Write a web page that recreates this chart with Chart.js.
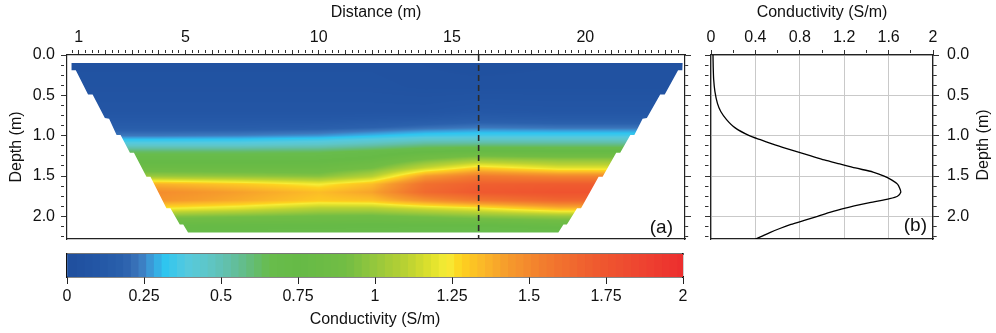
<!DOCTYPE html>
<html>
<head>
<meta charset="utf-8">
<script src="https://cdn.jsdelivr.net/npm/chart.js@4.4.1/dist/chart.umd.min.js"></script>
<style>
  html, body { margin: 0; padding: 0; background: #fff; }
  #wrap { position: relative; width: 996px; height: 333px; overflow: hidden; }
  canvas { position: absolute; }
</style>
</head>
<body>
<div id="wrap">
  <canvas id="section" width="700" height="245" style="left:0;top:0"></canvas>
  <canvas id="profile" width="301" height="245" style="left:695px;top:0"></canvas>
  <canvas id="colorbar" width="700" height="88" style="left:0;top:245px"></canvas>
</div>
<script>
// --- section (a): conductivity (S/m) per column of distance, rows of depth
const sectionDist = [4, 7, 10, 12, 14, 16, 19];
const sectionDepth = [0.1, 0.4, 0.7, 0.8, 0.9, 1.0, 1.1, 1.2, 1.3, 1.4, 1.5, 1.6, 1.7, 1.8, 1.9, 2.0, 2.1, 2.2, 2.3];
const condX4  = [0.04, 0.05, 0.08, 0.11, 0.15, 0.23, 0.40, 0.62, 0.72, 0.82, 1.00, 1.36, 1.48, 1.45, 1.24, 0.95, 0.78, 0.70, 0.66];
const condX7  = [0.04, 0.05, 0.08, 0.11, 0.15, 0.24, 0.40, 0.62, 0.72, 0.82, 0.98, 1.30, 1.41, 1.38, 1.18, 0.92, 0.77, 0.70, 0.66];
const condX10 = [0.04, 0.05, 0.08, 0.11, 0.16, 0.26, 0.43, 0.63, 0.73, 0.82, 0.95, 1.22, 1.33, 1.30, 1.08, 0.89, 0.76, 0.70, 0.66];
const condX12 = [0.04, 0.05, 0.08, 0.12, 0.18, 0.30, 0.48, 0.68, 0.78, 0.90, 1.08, 1.33, 1.40, 1.32, 1.08, 0.88, 0.75, 0.69, 0.65];
const condX14 = [0.03, 0.04, 0.08, 0.13, 0.21, 0.34, 0.54, 0.75, 0.92, 1.12, 1.42, 1.60, 1.63, 1.46, 1.15, 0.92, 0.76, 0.66, 0.60];
const condX16 = [0.02, 0.04, 0.10, 0.15, 0.23, 0.35, 0.55, 0.78, 1.02, 1.29, 1.55, 1.68, 1.72, 1.56, 1.21, 0.96, 0.76, 0.64, 0.58];
const condX19 = [0.03, 0.04, 0.09, 0.14, 0.22, 0.35, 0.55, 0.76, 0.98, 1.18, 1.50, 1.70, 1.76, 1.65, 1.35, 1.00, 0.80, 0.68, 0.62];
const sectionCond = [condX4, condX7, condX10, condX12, condX14, condX16, condX19];

// outline of the imaged area (left edge down, right edge up)
const outlineDist = [0.73, 0.73, 0.89, 1.35, 1.52, 1.98, 2.14, 2.42, 2.57, 2.92, 3.07, 3.54, 3.69, 4.29, 4.44, 4.79, 4.92, 5.10,
  18.99, 19.18, 19.31, 19.69, 19.84, 20.50, 20.65, 21.16, 21.31, 21.69, 21.84, 22.15, 22.31, 22.81, 22.98, 23.48, 23.64, 23.65];
const outlineDepth = [0.10, 0.19, 0.19, 0.49, 0.49, 0.78, 0.79, 0.99, 0.99, 1.21, 1.21, 1.51, 1.51, 1.90, 1.90, 2.10, 2.10, 2.20,
  2.20, 2.10, 2.10, 1.90, 1.90, 1.51, 1.51, 1.21, 1.21, 0.99, 0.99, 0.79, 0.78, 0.49, 0.49, 0.19, 0.19, 0.10];

// --- profile (b), taken under the dashed line
const profileAt = 16;
const profileDepth = [0.0, 0.15, 0.3, 0.45, 0.6, 0.7, 0.8, 0.9, 1.0, 1.05, 1.1, 1.15, 1.2, 1.25, 1.3, 1.35, 1.4, 1.45, 1.5,
  1.55, 1.6, 1.65, 1.7, 1.75, 1.78, 1.83, 1.9, 1.95, 2.0, 2.05, 2.1, 2.15, 2.2, 2.25, 2.28];
const profileCond = [0.018, 0.02, 0.024, 0.035, 0.058, 0.088, 0.14, 0.215, 0.345, 0.445, 0.55, 0.66, 0.78, 0.90, 1.02, 1.16, 1.30, 1.46, 1.56,
  1.63, 1.68, 1.70, 1.71, 1.68, 1.61, 1.43, 1.20, 1.07, 0.96, 0.84, 0.72, 0.62, 0.53, 0.45, 0.40];

// --- axes
const distRange = [0.56, 23.74];
const depthRange = [0, 2.28];
const distLabels = [1, 5, 10, 15, 20];
const depthLabels = [0, 0.5, 1, 1.5, 2];
const condLabels = [0, 0.4, 0.8, 1.2, 1.6, 2];
const barLabels = [0, 0.25, 0.5, 0.75, 1, 1.25, 1.5, 1.75, 2];

// --- colour scale
const cmapValues = [0, 0.1, 0.18, 0.23, 0.27, 0.31, 0.38, 0.45, 0.52, 0.58, 0.65, 0.75, 0.9, 1.0, 1.1, 1.18, 1.23, 1.27, 1.34, 1.42, 1.55, 1.7, 1.85, 2.0];
const cmapColors = ['#1f4f9e', '#2457a6', '#2b61ad', '#3d78bd', '#3a9fdc', '#2ec5f0', '#55c9de', '#5ec6c8', '#62bfa8', '#63bc80', '#68bc4c', '#66ba46',
  '#72bd44', '#98c83c', '#bcd232', '#e2e22c', '#f7ec36', '#fdd31f', '#fbb928', '#f69c2c', '#f27a2e', '#ef5c2f', '#ee4530', '#ec2d2e'];
const colorbarSteps = 80;

Chart.defaults.font.family = "'Liberation Sans', Arial, sans-serif";
Chart.defaults.font.size = 16;
Chart.defaults.color = '#111';

function lerpIndex(arr, v) {
  const n = arr.length - 1;
  if (v <= arr[0]) return [0, 0, 0];
  if (v >= arr[n]) return [n, n, 0];
  let i = 0;
  while (arr[i + 1] < v) i++;
  return [i, i + 1, (v - arr[i]) / (arr[i + 1] - arr[i])];
}

const cmapRGB = cmapColors.map(h => [1, 3, 5].map(k => parseInt(h.slice(k, k + 2), 16)));
function colourAt(v) {
  const [i0, i1, t] = lerpIndex(cmapValues, v);
  const a = cmapRGB[i0], b = cmapRGB[i1];
  return [0, 1, 2].map(k => Math.round(a[k] + (b[k] - a[k]) * t));
}

function sectionValue(dist, depth) {
  const [c0, c1, tx] = lerpIndex(sectionDist, dist);
  const [r0, r1, ty] = lerpIndex(sectionDepth, depth);
  const a = sectionCond[c0], b = sectionCond[c1];
  const top = a[r0] + (b[r0] - a[r0]) * tx;
  const bot = a[r1] + (b[r1] - a[r1]) * tx;
  return top + (bot - top) * ty;
}

// force axis box sizes so the three canvases line up
function fixSize(size) {
  return (scale) => {
    if (scale.isHorizontal()) scale.height = size; else scale.width = size;
    scale.paddingLeft = scale.paddingRight = scale.paddingTop = scale.paddingBottom = 0;
  };
}
function setTicks(values) {
  return (scale) => { scale.ticks = values.map(v => ({ value: v })); };
}
const near = (a, b) => Math.abs(a - b) < 1e-6;
const isStep = (v, s) => near(v / s, Math.round(v / s));

const distTicks = [], depthTicks = [], condTicks = [];
for (let k = 3; k <= 94; k++) distTicks.push(k / 4);
for (let k = 0; k <= 18; k++) depthTicks.push(k / 8);
for (let k = 0; k <= 10; k++) condTicks.push(k / 5);

function tickGrid(isMajor, long, short, extra) {
  return Object.assign({
    drawOnChartArea: false,
    tickLength: long,
    tickWidth: 1,
    tickColor: '#333',
    tickBorderDash: (c) => (c.tick && isMajor(c.tick.value)) ? [] : [short, 40]
  }, extra || {});
}
const frame = { color: '#222', width: 1.2 };
const noTicks = { display: false };

function tag(text, dx, dy) {
  return {
    id: 'tag',
    afterDraw(chart) {
      const { ctx, chartArea } = chart;
      ctx.save();
      ctx.font = "19px 'Liberation Sans', Arial, sans-serif";
      ctx.fillStyle = '#111';
      ctx.textAlign = 'right';
      ctx.textBaseline = 'alphabetic';
      ctx.fillText(text, chartArea.right - dx, chartArea.bottom - dy);
      ctx.restore();
    }
  };
}

const heatmap = {
  id: 'heatmap',
  beforeDatasetsDraw(chart) {
    const { ctx, chartArea: area, scales } = chart;
    const x = scales.x, y = scales.y;
    const w = Math.ceil(area.right - area.left), h = Math.ceil(area.bottom - area.top);
    const off = document.createElement('canvas');
    off.width = w; off.height = h;
    const octx = off.getContext('2d');
    const img = octx.createImageData(w, h);
    const dists = [];
    for (let i = 0; i < w; i++) dists.push(x.getValueForPixel(area.left + i + 0.5));
    for (let j = 0; j < h; j++) {
      const depth = y.getValueForPixel(area.top + j + 0.5);
      for (let i = 0; i < w; i++) {
        const rgb = colourAt(sectionValue(dists[i], depth));
        const p = (j * w + i) * 4;
        img.data[p] = rgb[0]; img.data[p + 1] = rgb[1]; img.data[p + 2] = rgb[2]; img.data[p + 3] = 255;
      }
    }
    octx.putImageData(img, 0, 0);
    ctx.save();
    ctx.beginPath();
    outlineDist.forEach((d, k) => {
      const px = x.getPixelForValue(d), py = y.getPixelForValue(outlineDepth[k]);
      if (k === 0) ctx.moveTo(px, py); else ctx.lineTo(px, py);
    });
    ctx.closePath();
    ctx.clip();
    ctx.drawImage(off, area.left, area.top);
    ctx.restore();
  }
};

const depthMajor = v => isStep(v, 0.5);
const depthLabel = v => depthLabels.some(l => near(l, v)) ? v.toFixed(1) : '';

// (a) section
new Chart(document.getElementById('section'), {
  type: 'scatter',
  data: {
    datasets: [{
      data: [{ x: profileAt, y: depthRange[0] }, { x: profileAt, y: depthRange[1] }],
      showLine: true,
      borderColor: '#2b2b2b',
      borderWidth: 1.6,
      borderDash: [6, 4],
      pointRadius: 0
    }]
  },
  options: {
    animation: false,
    responsive: false,
    layout: { padding: { bottom: 6 } },
    plugins: { legend: { display: false }, tooltip: { enabled: false } },
    scales: {
      x: {
        type: 'linear', position: 'top', min: distRange[0], max: distRange[1],
        afterFit: fixSize(55), afterBuildTicks: setTicks(distTicks),
        ticks: { autoSkip: false, maxRotation: 0, padding: 2.4, callback: v => distLabels.includes(v) ? String(v) : '' },
        grid: tickGrid(v => Number.isInteger(v), 5, 3),
        border: frame,
        title: { display: true, text: 'Distance (m)', padding: { top: 3.4, bottom: 0 } }
      },
      y: {
        type: 'linear', position: 'left', reverse: true, min: depthRange[0], max: depthRange[1],
        afterFit: fixSize(67), afterBuildTicks: setTicks(depthTicks),
        ticks: { autoSkip: false, padding: 6, callback: depthLabel },
        grid: tickGrid(depthMajor, 6, 3),
        border: frame,
        title: { display: true, text: 'Depth (m)', padding: { top: 7.4, bottom: 0 } }
      },
      y2: {
        type: 'linear', position: 'right', reverse: true, min: depthRange[0], max: depthRange[1],
        afterFit: fixSize(15), afterBuildTicks: setTicks(depthTicks),
        ticks: noTicks,
        grid: tickGrid(depthMajor, 6, 3),
        border: frame
      },
      xb: {
        type: 'linear', position: 'bottom', min: distRange[0], max: distRange[1],
        afterFit: fixSize(0),
        ticks: noTicks,
        grid: { drawOnChartArea: false, drawTicks: false },
        border: frame
      }
    }
  },
  plugins: [heatmap, tag('(a)', 12, 6.3)]
});

// (b) profile
const rightTitle = {
  id: 'rightTitle',
  afterDraw(chart) {
    const { ctx, chartArea } = chart;
    ctx.save();
    ctx.font = "16px 'Liberation Sans', Arial, sans-serif";
    ctx.fillStyle = '#111';
    ctx.textAlign = 'center';
    ctx.textBaseline = 'middle';
    ctx.translate(chartArea.right + 51, (chartArea.top + chartArea.bottom) / 2 - 2);
    ctx.rotate(-Math.PI / 2);
    ctx.fillText('Depth (m)', 0, 0);
    ctx.restore();
  }
};
const condMajor = v => isStep(v, 0.4);
new Chart(document.getElementById('profile'), {
  type: 'scatter',
  data: {
    datasets: [{
      data: profileDepth.map((d, i) => ({ x: profileCond[i], y: d })),
      showLine: true,
      borderColor: '#000',
      borderWidth: 1.3,
      pointRadius: 0,
      tension: 0.25
    }]
  },
  options: {
    animation: false,
    responsive: false,
    layout: { padding: { bottom: 6 } },
    plugins: { legend: { display: false }, tooltip: { enabled: false } },
    scales: {
      x: {
        type: 'linear', position: 'top', min: 0, max: 2,
        afterFit: fixSize(55), afterBuildTicks: setTicks(condTicks),
        ticks: { autoSkip: false, maxRotation: 0, padding: 2.4,
          callback: v => condLabels.some(l => near(l, v)) ? String(Math.round(v * 10) / 10) : '' },
        grid: tickGrid(condMajor, 5, 3, {
          drawOnChartArea: true,
          lineWidth: 1,
          color: c => (c.tick && condMajor(c.tick.value)) ? '#c9c9c9' : 'rgba(0,0,0,0)'
        }),
        border: frame,
        title: { display: true, text: 'Conductivity (S/m)', padding: { top: 3.4, bottom: 0 } }
      },
      y: {
        type: 'linear', position: 'left', reverse: true, min: depthRange[0], max: depthRange[1],
        afterFit: fixSize(16), afterBuildTicks: setTicks(depthTicks),
        ticks: noTicks,
        grid: tickGrid(depthMajor, 6, 3.5),
        border: frame
      },
      y2: {
        type: 'linear', position: 'right', reverse: true, min: depthRange[0], max: depthRange[1],
        afterFit: fixSize(63), afterBuildTicks: setTicks(depthTicks),
        ticks: { autoSkip: false, padding: 8, callback: depthLabel },
        grid: tickGrid(depthMajor, 6, 3.5, {
          drawOnChartArea: true,
          lineWidth: 1,
          color: c => (c.tick && depthMajor(c.tick.value)) ? '#c9c9c9' : 'rgba(0,0,0,0)'
        }),
        border: frame
      },
      xb: {
        type: 'linear', position: 'bottom', min: 0, max: 2,
        afterFit: fixSize(0),
        ticks: noTicks,
        grid: { drawOnChartArea: false, drawTicks: false },
        border: frame
      }
    }
  },
  plugins: [rightTitle, tag('(b)', 6, 8)]
});

// colour bar
const stepWidth = 2 / colorbarSteps;
const barSets = [];
for (let i = 0; i < colorbarSteps; i++) {
  const lo = i * stepWidth, hi = lo + stepWidth;
  const rgb = colourAt(lo + stepWidth / 2);
  barSets.push({
    data: [[lo, Math.min(2, hi + 0.006)]],
    backgroundColor: `rgb(${rgb[0]},${rgb[1]},${rgb[2]})`,
    borderWidth: 0,
    grouped: false,
    barPercentage: 1,
    categoryPercentage: 1
  });
}
new Chart(document.getElementById('colorbar'), {
  type: 'bar',
  data: { labels: [''], datasets: barSets },
  options: {
    indexAxis: 'y',
    animation: false,
    responsive: false,
    layout: { padding: { top: 9 } },
    plugins: { legend: { display: false }, tooltip: { enabled: false } },
    scales: {
      x: {
        type: 'linear', position: 'bottom', min: 0, max: 2,
        afterFit: fixSize(56), afterBuildTicks: setTicks(barLabels),
        ticks: { autoSkip: false, maxRotation: 0, padding: 3.4, callback: v => String(v) },
        grid: { drawOnChartArea: false, tickLength: 7, tickWidth: 1, tickColor: '#222' },
        border: { color: '#111', width: 1.5 },
        title: { display: true, text: 'Conductivity (S/m)', padding: { top: 0, bottom: 3.4 } }
      },
      xTop: {
        type: 'linear', position: 'top', min: 0, max: 2,
        afterFit: fixSize(0),
        ticks: noTicks,
        grid: { display: false },
        border: { color: '#777', width: 2 }
      },
      y: {
        type: 'category', position: 'left',
        afterFit: fixSize(67),
        ticks: noTicks,
        grid: { display: false },
        border: { color: '#111', width: 1.2 }
      },
      yRight: {
        type: 'category', position: 'right',
        afterFit: fixSize(17),
        ticks: noTicks,
        grid: { display: false },
        border: { color: '#111', width: 1.2 }
      }
    }
  }
});
</script>
</body>
</html>
